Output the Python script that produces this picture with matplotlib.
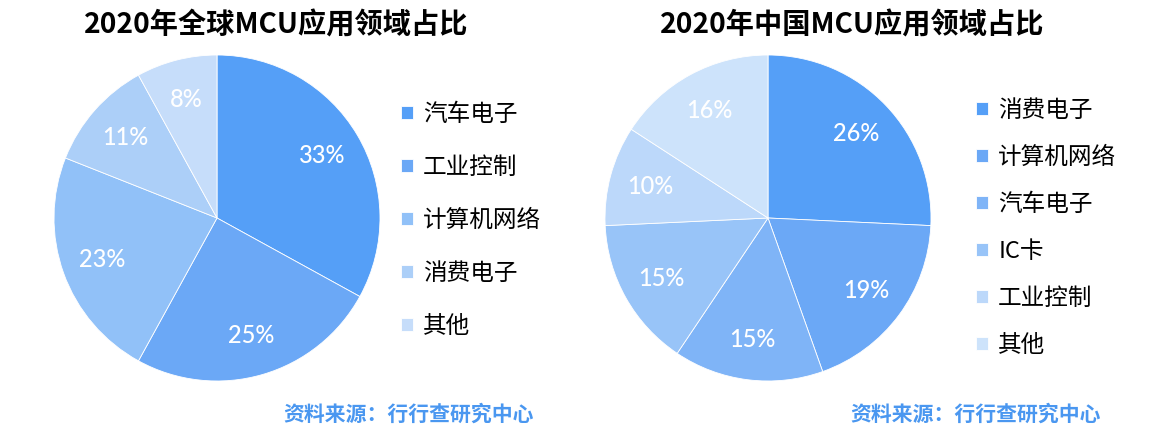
import matplotlib
matplotlib.use("Agg")
from matplotlib import pyplot as plt
import numpy as np

plt.rcParams['font.family'] = ['Noto Sans CJK SC', 'DejaVu Sans']

# 全球
world_labels = ["汽车电子", "工业控制", "计算机网络", "消费电子", "其他"]
world_values = [33, 25, 23, 11, 8]
world_colors = ["#559ff7", "#6ba8f6", "#91c1f8", "#accff8", "#c6ddfa"]

# 中国
china_labels = ["消费电子", "计算机网络", "汽车电子", "IC卡", "工业控制", "其他"]
china_values = [26, 19, 15, 15, 10, 16]
china_colors = ["#559ff7", "#6ba8f6", "#7fb4f7", "#98c4f8", "#bcd8fa", "#cde3fb"]

W, H = 1158, 444
fig = plt.figure(figsize=(W / 100, H / 100), dpi=100)


def px_axes(cx, cy, r):
    return fig.add_axes([(cx - r) / W, (H - cy - r) / H, 2 * r / W, 2 * r / H])


def draw(ax, values, colors, labels, leg_x, leg_y, spacing):
    wedges, texts = ax.pie(values, colors=colors, startangle=90, counterclock=False,
                           wedgeprops=dict(edgecolor="white", linewidth=0.6))
    for w, v in zip(wedges, values):
        ang = np.deg2rad((w.theta1 + w.theta2) / 2)
        ax.text(0.75 * np.cos(ang), 0.75 * np.sin(ang), "{}%".format(v),
                ha="center", va="center", color="white", fontsize=17,
                family=["Lato", "DejaVu Sans"], fontweight="medium")
    ax.set_xlim(-1, 1)
    ax.set_ylim(-1, 1)
    ax.set_aspect("equal")
    fig.legend(wedges, labels, loc="upper left",
               bbox_to_anchor=(leg_x / W, 1 - leg_y / H), frameon=False,
               handlelength=0.5, handleheight=0.5,
               handletextpad=0.45, labelspacing=spacing, borderpad=0,
               prop=dict(size=17, weight="medium"))


ax1 = px_axes(217, 218, 163)
draw(ax1, world_values, world_colors, world_labels, 389, 91, 1.27)

ax2 = px_axes(768, 218, 163)
draw(ax2, china_values, china_colors, china_labels, 964, 87, 1.015)

fig.text(276 / W, 1 - 25 / H, "2020年全球MCU应用领域占比", fontsize=20.3,
         fontweight="bold", ha="center", va="center")
fig.text(852 / W, 1 - 25 / H, "2020年中国MCU应用领域占比", fontsize=20.3,
         fontweight="bold", ha="center", va="center")

fig.text(283 / W, 1 - 414 / H, "资料来源：行行查研究中心", color="#4a97f0",
         fontsize=15, fontweight="bold", va="center")
fig.text(850 / W, 1 - 414 / H, "资料来源：行行查研究中心", color="#4a97f0",
         fontsize=15, fontweight="bold", va="center")

fig.savefig("out.png", dpi=100)
